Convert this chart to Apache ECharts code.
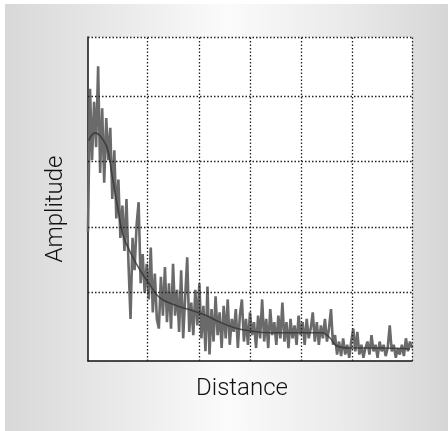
<!DOCTYPE html>
<html>
<head>
<meta charset="utf-8">
<script src="https://cdn.jsdelivr.net/npm/echarts@6/dist/echarts.min.js"></script>
<style>
    html, body { margin: 0; padding: 0; background: #fff; }
    #main {
        position: absolute; left: 5px; top: 4px; width: 443px; height: 427px;
        background: linear-gradient(to right, #d8d8d8 0%, #e9e9e9 25%, #fbfbfb 50%, #e9e9e9 78%, #d6d6d6 100%);
    }
</style>
</head>
<body>
<div id="main"></div>
<script>
// raw trace, sampled evenly from 0 to 100 along distance
var noise = [
    40, 84, 62, 80, 66, 91, 58, 78, 55, 75, 62, 72, 50, 65, 44, 56, 38, 48, 34, 50,
    30, 13, 38, 28, 42, 49, 24, 33, 21, 30, 19, 35, 15, 27, 13, 10, 26, 14, 29, 12,
    24, 10, 30, 14, 22, 9, 28, 7, 20, 32, 9, 18, 8, 22, 11, 24, 7, 17, 3, 23,
    2, 16, 6, 20, 8, 15, 4, 17, 7, 19, 5, 13, 9, 16, 4, 14, 19, 6, 13, 5,
    15, 8, 12, 4, 14, 7, 19, 6, 13, 4, 16, 8, 12, 5, 14, 7, 18, 6, 12, 4,
    13, 7, 11, 5, 14, 8, 12, 5, 13, 7, 10, 15, 6, 12, 5, 11, 7, 13, 6, 10,
    16, 5, 8, 2, 6, 1.5, 7, 2, 5, 1, 6, 10, 3, 9, 2, 5, 1, 4, 6, 2,
    8, 3, 5, 1, 6, 3, 5, 1.5, 4, 11, 3, 5, 1, 4, 2, 5, 1.5, 7, 3, 6,
    4
];

// fitted curve
var fitX = [0.2, 2.2, 3.7, 5.9, 7.4, 9.3, 10.8, 13, 16, 19.1, 22.2, 26.8, 31.5, 36.1, 40.7, 45.4, 50, 56.2, 65.4, 72.2, 74.7, 76.8, 80.9, 90.1, 99.4];
var fitY = [68, 70.4, 69.5, 65.8, 57.5, 46.6, 38.9, 33.7, 28.1, 23.5, 19.5, 17.3, 15.8, 14.2, 12, 10.2, 9.3, 8.7, 8.7, 8.7, 7.1, 4.6, 4, 4, 3.7];

// dotted grid positions
var gridX = [18.4, 34.3, 50.1, 65.9, 81.7, 100];
var gridY = [21.3, 41.4, 61.7, 81.8, 100];

var noiseData = noise.map(function (v, i) {
    return [i * 100 / (noise.length - 1), v];
});
var fitData = fitX.map(function (x, i) {
    return [x, fitY[i]];
});

var gridLines = [];
for (var i = 0; i < gridX.length; i++) gridLines.push({ xAxis: gridX[i] });
for (var j = 0; j < gridY.length; j++) gridLines.push({ yAxis: gridY[j] });

var chart = echarts.init(document.getElementById('main'));
var option = {
    backgroundColor: 'transparent',
    animation: false,
    grid: {
        left: 83, top: 33, width: 324, height: 324,
        show: true, backgroundColor: '#ffffff', borderWidth: 0
    },
    xAxis: {
        type: 'value', min: 0, max: 100,
        axisLine: { show: true, lineStyle: { color: '#111', width: 1.5 } },
        axisTick: { show: false }, axisLabel: { show: false }, splitLine: { show: false }
    },
    yAxis: {
        type: 'value', min: 0, max: 100,
        axisLine: { show: true, lineStyle: { color: '#111', width: 1.5 } },
        axisTick: { show: false }, axisLabel: { show: false }, splitLine: { show: false }
    },
    graphic: [
        {
            type: 'text', x: 51, y: 205, rotation: Math.PI / 2,
            style: { text: 'Amplitude', font: '300 24px Roboto', fill: '#111', align: 'center', verticalAlign: 'middle' }
        },
        {
            type: 'text', x: 237, y: 385,
            style: { text: 'Distance', font: '300 24px Roboto', fill: '#111', align: 'center', verticalAlign: 'middle' }
        }
    ],
    series: [
        {
            type: 'line', data: [], z: 1,
            markLine: {
                silent: true, symbol: 'none', animation: false,
                label: { show: false },
                lineStyle: { color: '#222', width: 1.3, type: [1.5, 2] },
                data: gridLines
            }
        },
        {
            type: 'line', data: noiseData, z: 2, symbol: 'none',
            lineStyle: { color: '#6a6a6a', width: 2.6, join: 'bevel' }
        },
        {
            type: 'line', data: fitData, z: 3, symbol: 'none', smooth: 0.4,
            lineStyle: { color: '#333', width: 1.6, opacity: 0.8 }
        }
    ]
};
chart.setOption(option);
</script>
</body>
</html>
